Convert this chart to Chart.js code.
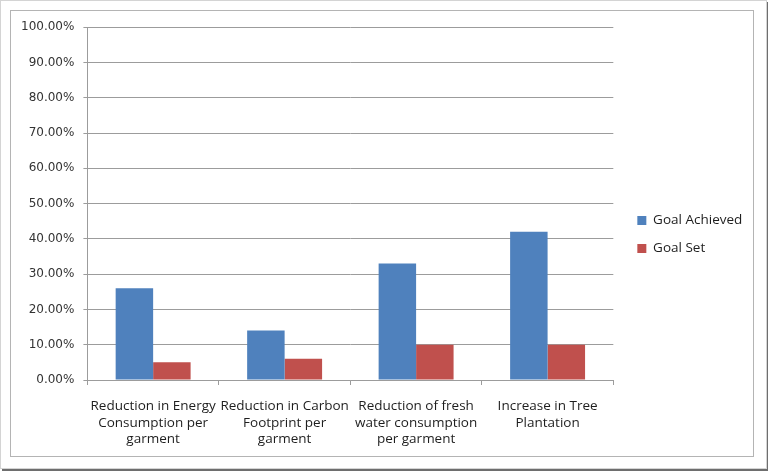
<!DOCTYPE html>
<html>
<head>
<meta charset="utf-8">
<script src="https://cdn.jsdelivr.net/npm/chart.js@4.4.0/dist/chart.umd.min.js"></script>
<style>
    body { margin: 0; background: #fff; }
    #outer {
        position: absolute; left: 0; top: 0; width: 765px; height: 467px;
        border: 1px solid #d4d4d4; box-shadow: 2px 2px 0 #6e6e6e;
    }
    #frame {
        position: absolute; left: 10px; top: 10px; width: 742px; height: 445px;
        border: 1px solid #b4b4b4;
    }
    canvas { display: block; }
</style>
</head>
<body>
<div id="outer"></div>
<div id="frame"><canvas id="chart" width="742" height="445"></canvas></div>
<script>
// Chart data
const categories = [
    ['Reduction in Energy', 'Consumption per', 'garment'],
    ['Reduction in Carbon', 'Footprint per', 'garment'],
    ['Reduction of fresh', 'water consumption', 'per garment'],
    ['Increase in Tree', 'Plantation']
];
const goalAchieved = [26, 14, 33, 42];
const goalSet = [5, 6, 10, 10];

const gridColor = '#9c9c9c';

// nudge the legend up a little
const legendShift = {
    id: 'legendShift',
    afterLayout(chart) {
        chart.legend.top -= 3;
        chart.legend.bottom -= 3;
    }
};

const chart = new Chart(document.getElementById('chart'), {
    type: 'bar',
    data: {
        labels: categories,
        datasets: [{
            label: 'Goal Achieved',
            data: goalAchieved,
            backgroundColor: '#4f81bd',
            borderWidth: 0
        }, {
            label: 'Goal Set',
            data: goalSet,
            backgroundColor: '#c0504d',
            borderWidth: 0
        }]
    },
    options: {
        responsive: false,
        animation: false,
        devicePixelRatio: 1,
        layout: {
            padding: { left: 1, top: 16, right: 8, bottom: 8 }
        },
        datasets: {
            bar: {
                categoryPercentage: 0.57,
                barPercentage: 1.0
            }
        },
        scales: {
            x: {
                grid: {
                    offset: true,
                    drawOnChartArea: false,
                    drawTicks: true,
                    tickLength: 5,
                    color: gridColor
                },
                border: { color: gridColor },
                ticks: {
                    autoSkip: false,
                    maxRotation: 0,
                    padding: 13,
                    color: '#1e1e1e',
                    font: { family: 'Open Sans', size: 13.5, lineHeight: 1.22 }
                },
                afterFit: (scale) => { scale.height = 68; }
            },
            y: {
                min: 0,
                max: 100,
                grid: {
                    color: gridColor,
                    tickLength: 4
                },
                border: { color: gridColor },
                ticks: {
                    stepSize: 10,
                    padding: 9,
                    color: '#333333',
                    font: { family: 'DejaVu Sans', size: 12 },
                    callback: (v) => v.toFixed(2) + '%'
                }
            },
            spacer: {
                type: 'linear',
                position: 'right',
                display: true,
                grid: { display: false },
                border: { display: false },
                ticks: { display: false },
                afterFit: (scale) => { scale.width = 9.5; }
            }
        },
        plugins: {
            legend: {
                position: 'right',
                labels: {
                    boxWidth: 9,
                    boxHeight: 9,
                    padding: 14.5,
                    color: '#1e1e1e',
                    font: { family: 'Open Sans', size: 13.5 }
                }
            },
            tooltip: { enabled: false }
        }
    },
    plugins: [legendShift]
});
</script>
</body>
</html>
